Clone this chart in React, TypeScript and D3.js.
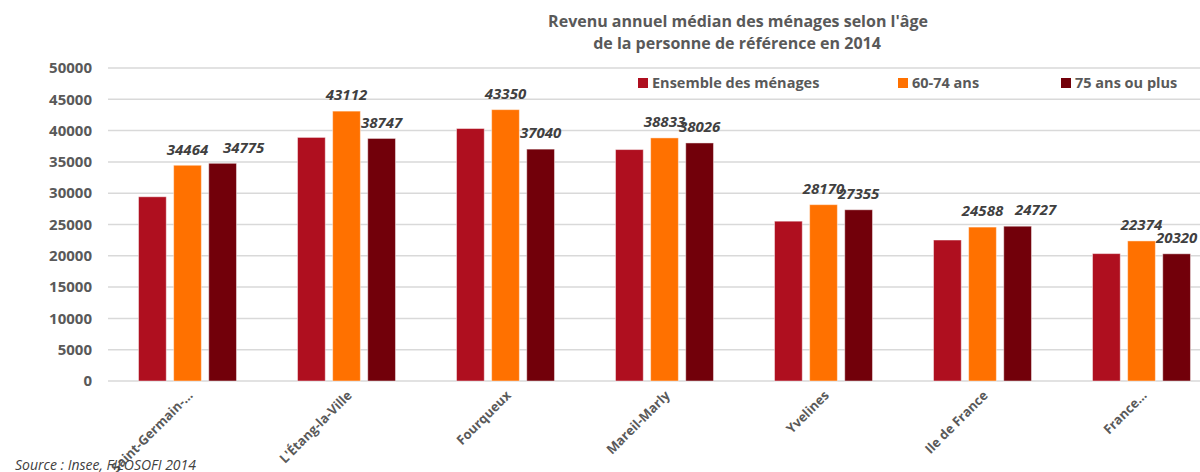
import React from 'react';
import * as d3 from 'd3';

// data
const categories = ['Saint-Germain-…', "L'Étang-la-Ville", 'Fourqueux', 'Mareil-Marly', 'Yvelines', 'Ile de France', 'France…'];
const ensemble = [29430, 38910, 40330, 36970, 25530, 22520, 20350];
const age60to74 = [34464, 43112, 43350, 38833, 28170, 24588, 22374];
const age75plus = [34775, 38747, 37040, 38026, 27355, 24727, 20320];
const yTicks = [0, 5000, 10000, 15000, 20000, 25000, 30000, 35000, 40000, 45000, 50000];

const seriesNames = ['Ensemble des ménages', '60-74 ans', '75 ans ou plus'];
const colors = ['#af0f1f', '#ff7100', '#72000a'];
const series = [ensemble, age60to74, age75plus];
const labelled = [false, true, true];

// labels that were dragged sideways in the original
const labelNudge: Record<string, number> = { '2-0': 21, '2-5': 18 };

const W = 1200, H = 472;
const font = "'Open Sans', 'DejaVu Sans', sans-serif";

export default function App() {
  const x = d3.scaleBand<string>().domain(categories).range([108, 1221]).paddingInner(0.384).paddingOuter(0.192);
  const xs = d3.scaleBand<number>().domain([0, 1, 2]).range([0, x.bandwidth()]).paddingInner(0.21);
  const y = d3.scaleLinear().domain([0, 50000]).range([381, 68]);

  return (
    <svg width={W} height={H} style={{ position: 'absolute', left: 0, top: 0, background: '#fff' }} fontFamily={font}>
      {/* title */}
      <text x={738} y={27} textAnchor="middle" fontSize={16} fontWeight="bold" fill="#595959">
        Revenu annuel médian des ménages selon l'âge
      </text>
      <text x={737} y={49} textAnchor="middle" fontSize={16} fontWeight="bold" fill="#595959">
        de la personne de référence en 2014
      </text>

      {/* grid + y axis */}
      {yTicks.map(t => (
        <g key={t}>
          <line x1={108} x2={1221} y1={y(t)} y2={y(t)} stroke="#d9d9d9" strokeWidth={1.5} />
          <text x={92} y={y(t)} dy="0.35em" textAnchor="end" fontSize={15} fontWeight="bold" fill="#595959">{t}</text>
        </g>
      ))}

      {/* legend */}
      {[{ sx: 638, tx: 652 }, { sx: 898, tx: 912 }, { sx: 1061, tx: 1075 }].map((p, i) => (
        <g key={i}>
          <rect x={p.sx} y={78} width={10} height={10} fill={colors[i]} />
          <text x={p.tx} y={83} dy="0.35em" fontSize={14.5} fontWeight="bold" fill="#595959">{seriesNames[i]}</text>
        </g>
      ))}

      {/* bars */}
      {series.map((vals, s) => (
        <g key={s}>
          {vals.map((v, i) => {
            const bx = (x(categories[i]) ?? 0) + (xs(s) ?? 0);
            return (
              <rect key={i} x={bx} y={y(v)} width={xs.bandwidth()} height={y(0) - y(v)}
                fill={colors[s]} stroke="#ffffff" strokeOpacity={0.45} strokeWidth={1} />
            );
          })}
        </g>
      ))}

      {/* value labels */}
      {series.map((vals, s) => labelled[s] && (
        <g key={'l' + s}>
          {vals.map((v, i) => {
            const cx = (x(categories[i]) ?? 0) + (xs(s) ?? 0) + xs.bandwidth() / 2 + (labelNudge[`${s}-${i}`] ?? 0);
            return (
              <text key={i} x={cx} y={y(v) - 16} dy="0.35em" textAnchor="middle" fontSize={15}
                fontWeight="bold" fontStyle="italic" fill="#404040">{v}</text>
            );
          })}
        </g>
      ))}

      {/* category labels */}
      {categories.map(c => {
        const cx = (x(c) ?? 0) + x.bandwidth() / 2 + 3;
        return (
          <text key={c} transform={`translate(${cx},393) rotate(-45)`} textAnchor="end" dy="0.35em"
            fontSize={13} fontWeight="bold" fill="#595959">{c}</text>
        );
      })}

      <text x={15} y={470} fontSize={14} fontStyle="italic" fill="#404040">Source : Insee, FILOSOFI 2014</text>
    </svg>
  );
}
